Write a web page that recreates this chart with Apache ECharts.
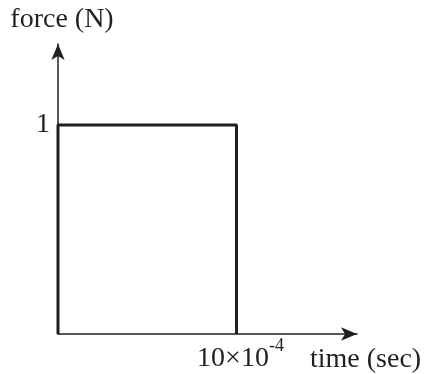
<!DOCTYPE html>
<html>
<head>
<meta charset="utf-8">
<script src="https://cdn.jsdelivr.net/npm/echarts@6/dist/echarts.min.js"></script>
<style>
html,body{margin:0;padding:0;background:#fff;}
#chart{width:425px;height:374px;}
</style>
</head>
<body>
<div id="chart"></div>
<script>
// Rectangular force pulse: 1 N held for 10×10^-4 s
var times = [0, 0, 10, 10];      // in units of 10^-4 s
var forces = [0, 1, 1, 0];        // N
var yTicks = [1];

var ink = '#231f20';
var serif = '"Liberation Serif", "DejaVu Serif", serif';

var chart = echarts.init(document.getElementById('chart'));
chart.setOption({
  animation: false,
  grid: { left: 58, right: 68, top: 44, bottom: 40 },
  xAxis: {
    type: 'value',
    min: 0,
    max: 16.75,
    interval: 10,
    name: 'time (sec)',
    nameLocation: 'end',
    nameGap: -47,
    nameTextStyle: { fontFamily: serif, fontSize: 28, color: ink, verticalAlign: 'top', padding: [12, 0, 0, 0] },
    axisLine: { show: true, symbol: ['none', 'arrow'], symbolSize: [10, 16], lineStyle: { color: ink, width: 1.5 } },
    axisTick: { show: false },
    splitLine: { show: false },
    axisLabel: {
      margin: 3,
      showMaxLabel: false,
      formatter: function (v) { return v === 10 ? '{b|10×10}{s|-4}' : ''; },
      rich: {
        b: { fontFamily: serif, fontSize: 28, color: ink, padding: [8, 0, 0, 8] },
        s: { fontFamily: serif, fontSize: 18, color: ink, verticalAlign: 'top', padding: [0, 0, 14, 0] }
      }
    }
  },
  yAxis: {
    type: 'value',
    min: 0,
    max: 1.3876,
    interval: 1,
    name: 'force (N)',
    nameLocation: 'end',
    nameGap: 10,
    nameTextStyle: { fontFamily: serif, fontSize: 28, color: ink, align: 'center', padding: [0, 0, 0, 8] },
    axisLine: { show: true, symbol: ['none', 'arrow'], symbolSize: [10, 16], lineStyle: { color: ink, width: 1.5 } },
    axisTick: { show: false },
    splitLine: { show: false },
    axisLabel: {
      margin: 8,
      showMaxLabel: false,
      fontFamily: serif, fontSize: 28, color: ink,
      formatter: function (v) { return yTicks.indexOf(v) >= 0 ? String(v) : ''; }
    }
  },
  series: [{
    type: 'line',
    data: times.map(function (t, i) { return [t, forces[i]]; }),
    symbol: 'none',
    lineStyle: { color: ink, width: 3 }
  }]
});
</script>
</body>
</html>
